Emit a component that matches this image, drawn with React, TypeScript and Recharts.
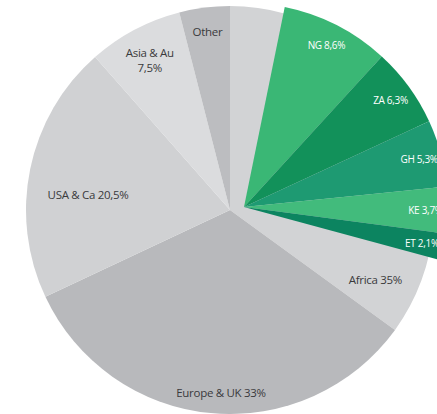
import { Cell, Pie, PieChart } from 'recharts'

// Share of the total by region (clockwise from 12 o'clock), Africa broken out by country.
const regions = ['Africa 35%', 'Europe & UK 33%', 'USA & Ca 20,5%', 'Asia & Au\n7,5%', 'Other']
const regionShares = [35, 33, 20.5, 7.5, 4]
const regionColors = ['#d2d3d5', '#b8b9bc', '#d0d1d3', '#dbdcde', '#bcbdc0']

const countries = ['NG 8,6%', 'ZA 6,3%', 'GH 5,3%', 'KE 3,7%', 'ET 2,1%']
const countryShares = [8.6, 6.3, 5.3, 3.7, 2.1]
const countryColors = ['#3ab775', '#12915a', '#1e9a72', '#42bb7c', '#0c8460']
// slice of Africa left grey before the first country
const africaLead = 3.2

const RAD = Math.PI / 180
// label placement: fraction of radius and a small angle nudge (degrees)
const labelRadius = [0.79, 0.9, 0.7, 0.84, 0.88]
const labelNudge = [0, 2.6, 5.5, 0, 0]
const font = { fontFamily: '"Open Sans", sans-serif', letterSpacing: -0.3 }

const regionData = regions.map((name, i) => ({ name, value: regionShares[i] }))
const countrySum = countryShares.reduce((a, b) => a + b, 0)
const countryData = [
  { name: '', value: africaLead },
  ...countries.map((name, i) => ({ name, value: countryShares[i] })),
  { name: '', value: 100 - africaLead - countrySum },
]

function RegionLabel(p: any) {
  let mid = p.midAngle + labelNudge[p.index]
  if (p.index === 0) {
    // Africa's label sits in the grey part left under the countries
    const from = (africaLead + countrySum) / 100
    const to = regionShares[0] / 100
    mid = 90 - ((from + to) / 2) * 360
  }
  const r = p.outerRadius * labelRadius[p.index]
  const x = p.cx + r * Math.cos(-mid * RAD)
  const y = p.cy + r * Math.sin(-mid * RAD)
  const lines = String(p.name).split('\n')
  return (
    <text x={x} y={y} textAnchor="middle" fill="#3a3a3c" fontSize={11.5} style={font}>
      {lines.map((l, k) => (
        <tspan key={k} x={x} dy={k === 0 ? (lines.length > 1 ? -2 : 4) : 15}>
          {l}
        </tspan>
      ))}
    </text>
  )
}

function CountryLabel(p: any) {
  if (!p.name) return null
  const r = p.outerRadius * 0.89
  const x = p.cx + r * Math.cos(-p.midAngle * RAD)
  const y = p.cy + r * Math.sin(-p.midAngle * RAD)
  return (
    <text x={x} y={y + 4} textAnchor="middle" fill="#ffffff" fontSize={10} style={font}>
      {p.name}
    </text>
  )
}

export default function App() {
  return (
    <div style={{ position: 'fixed', left: 0, top: 0, background: '#fff' }}>
      <PieChart width={437} height={414} margin={{ top: 0, right: 0, bottom: 0, left: 0 }}>
        <Pie
          data={regionData}
          dataKey="value"
          cx={230}
          cy={210}
          outerRadius={204}
          startAngle={90}
          endAngle={-270}
          stroke="none"
          label={RegionLabel}
          labelLine={false}
          isAnimationActive={false}
        >
          {regionData.map((d, i) => (
            <Cell key={d.name} fill={regionColors[i]} />
          ))}
        </Pie>
        <Pie
          data={countryData}
          dataKey="value"
          cx={244}
          cy={207}
          outerRadius={204}
          startAngle={90}
          endAngle={-270}
          stroke="none"
          label={CountryLabel}
          labelLine={false}
          isAnimationActive={false}
        >
          {countryData.map((d, i) => (
            <Cell key={i} fill={d.name ? countryColors[i - 1] : 'transparent'} />
          ))}
        </Pie>
      </PieChart>
    </div>
  )
}
